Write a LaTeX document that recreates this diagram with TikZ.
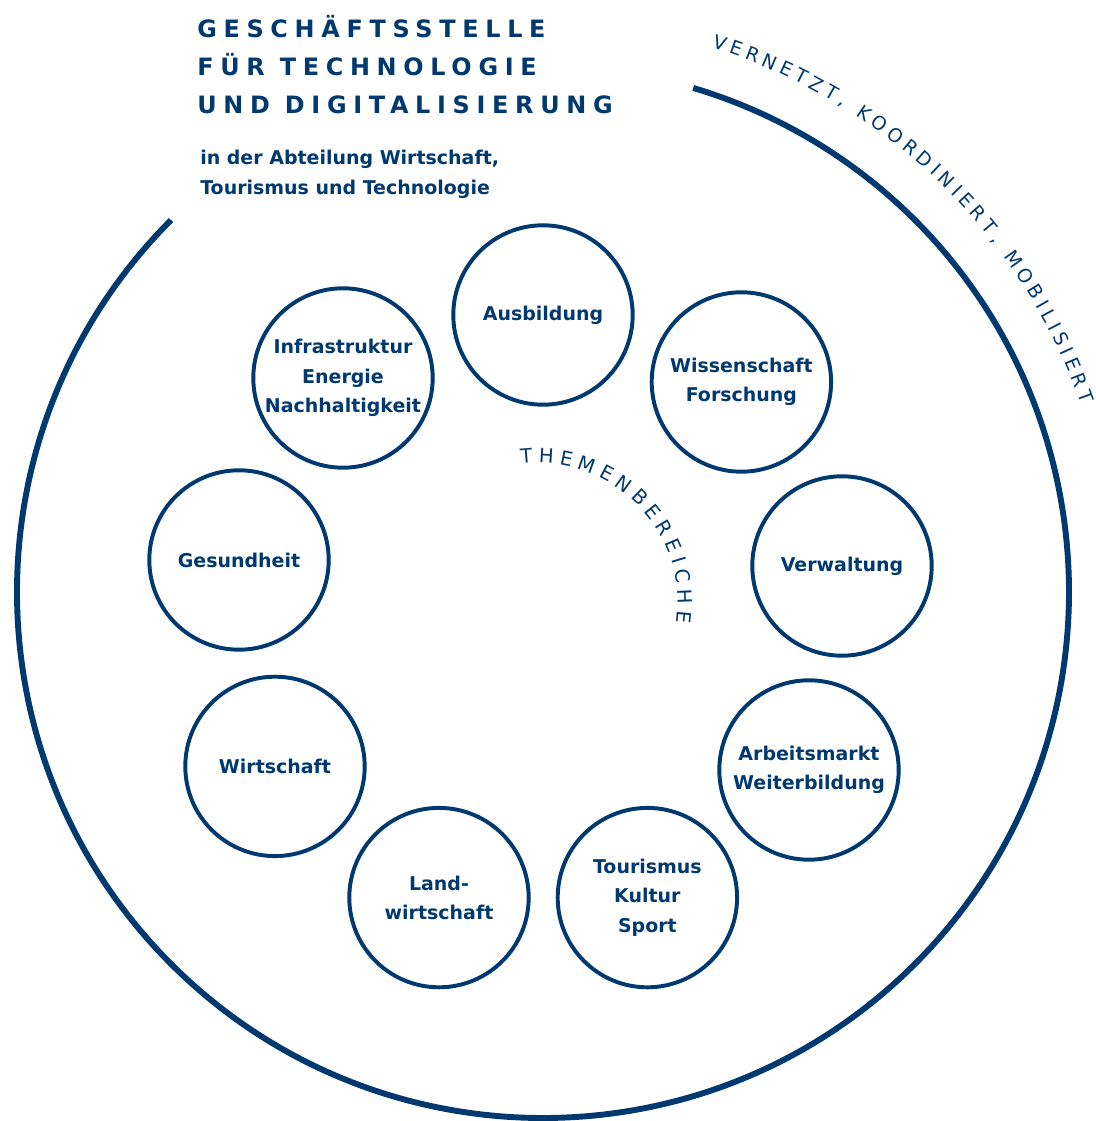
\documentclass[tikz,border=0pt]{standalone}
\usepackage{fontspec}
\setsansfont{DejaVu Sans}
\usetikzlibrary{decorations.text}
\definecolor{gtdblau}{RGB}{0,56,112}

\begin{document}
\begin{tikzpicture}[every node/.style={font=\sffamily\bfseries,text=gtdblau},
  thema/.style={circle,draw=gtdblau,line width=2.8pt,minimum size=4.485cm,inner sep=0pt,align=center,
    font=\sffamily\bfseries\fontsize{13.5}{20.8}\selectfont},
  bogentext/.style 2 args={decorate,decoration={text along path,text align={fit to path},
    text={|\sffamily\fontsize{#1}{15}\selectfont\color{gtdblau}|#2}}}]
  \useasboundingbox (-13.575,-13.225) rectangle (13.825,14.8);

  \draw[gtdblau,line width=4.2pt] (135:13.15) arc[start angle=135,end angle=433.4,radius=13.15];
  \path[bogentext={13.5}{VERNETZT, KOORDINIERT, MOBILISIERT}]
    (72.8:14.25) arc[start angle=72.8,end angle=19.3,radius=14.25];

  \node[anchor=north west,align=left,inner sep=0pt,
    font=\sffamily\bfseries\fontsize{17}{26.9}\selectfont\addfontfeature{LetterSpace=28}]
    (titel) at (-8.65,14.42) {GESCHÄFTSSTELLE\\FÜR TECHNOLOGIE\\UND DIGITALISIERUNG};
  \node[anchor=north west,align=left,inner sep=0pt,font=\sffamily\bfseries\fontsize{13.5}{21.3}\selectfont]
    (abteilung) at (-8.575,11.06) {in der Abteilung Wirtschaft,\\Tourismus und Technologie};

  \node[thema] (ausbildung) at (0,6.925) {Ausbildung};
  \node[thema] (wissenschaft) at (4.96,5.25) {Wissenschaft\\Forschung};
  \node[thema] (verwaltung) at (7.475,0.65) {Verwaltung};
  \node[thema] (arbeitsmarkt) at (6.65,-4.45) {Arbeitsmarkt\\Weiterbildung};
  \node[thema] (tourismus) at (2.61,-7.64) {Tourismus\\Kultur\\Sport};
  \node[thema] (landwirtschaft) at (-2.6,-7.64) {Land-\\wirtschaft};
  \node[thema] (wirtschaft) at (-6.7,-4.36) {Wirtschaft};
  \node[thema] (gesundheit) at (-7.6,0.8) {Gesundheit};
  \node[thema] (infrastruktur) at (-5.0,5.35) {Infrastruktur\\Energie\\Nachhaltigkeit};

  \begin{scope}[shift={(-0.125,-0.275)}]
    \path[bogentext={14}{THEMENBEREICHE}] (97:3.5) arc[start angle=97,end angle=-8,radius=3.5];
  \end{scope}
\end{tikzpicture}
\end{document}
